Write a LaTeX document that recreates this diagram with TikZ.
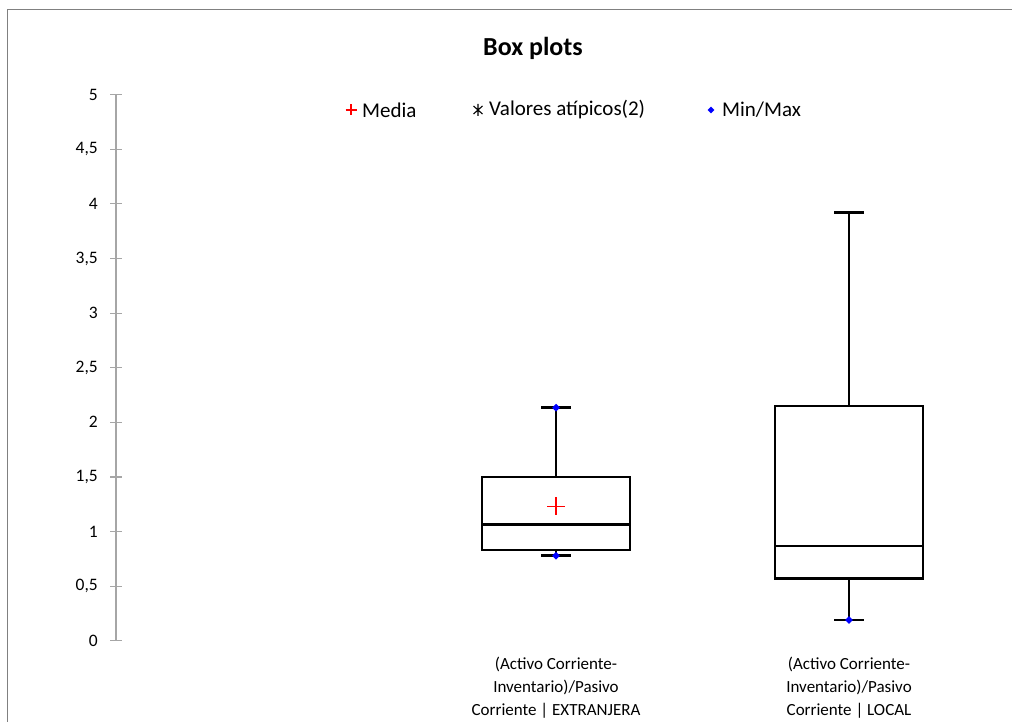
\documentclass[tikz,border=0pt]{standalone}
\usepackage{fontspec}
\setmainfont{Carlito}
\usetikzlibrary{shapes.geometric}
\begin{document}
\begin{tikzpicture}[x=1pt,y=-1pt,
    frame/.style={draw=black!50, line width=1.5pt},
    axisline/.style={draw=black!35, line width=1.2pt},
    boxline/.style={draw=black, line width=2.6pt},
    meanmark/.style={draw=red, line width=1.3pt},
    ticklabel/.style={anchor=east, inner sep=0pt, font=\fontsize{17.5}{20}\selectfont},
    catlabel/.style={anchor=north, align=center, inner sep=0pt,
      font=\fontsize{17}{23}\selectfont},
    legendtext/.style={anchor=west, inner sep=0pt, font=\fontsize{21}{24}\selectfont},
    minmax/.style={diamond, fill=blue, inner sep=0pt, minimum size=8pt}]
  \useasboundingbox (0,0) rectangle (1012,722);
  % chart frame
  \draw[frame] (7.5,722) -- (7.5,9.5) -- (1012,9.5);
  \node[font=\bfseries\fontsize{26}{29}\selectfont] (title) at (533,48) {Box plots};
  % vertical axis
  \draw[axisline] (116,94.7) -- (116,640.7);
  \foreach \v/\lab in {0/0, 0.5/{0,5}, 1/1, 1.5/{1,5}, 2/2, 2.5/{2,5},
                       3/3, 3.5/{3,5}, 4/4, 4.5/{4,5}, 5/5} {
    \pgfmathsetmacro\yy{640.7-109.2*\v}
    \draw[axisline] (110,\yy) -- (122,\yy);
    \node[ticklabel] (tick\v) at (98,\yy) {\lab};
  }
  % legend
  \draw[meanmark] (345.5,110) -- (356.5,110) (351,104.5) -- (351,115.5);
  \node[legendtext] (legmedia) at (362,110) {Media};
  \draw[line width=1.1pt] (478,104) -- (478,116) (473.5,106) -- (482.5,114) (473.5,114) -- (482.5,106);
  \node[legendtext] (legatip) at (489,110) {Valores atípicos(2)};
  \node[minmax, minimum size=7pt] (legdot) at (711,110) {};
  \node[legendtext] (legminmax) at (722,110) {Min/Max};
  % boxes
  \foreach \n/\cx/\lo/\qa/\med/\qb/\hi in {ext/556/0.778/0.83/1.066/1.50/2.134,
                                          loc/849/0.189/0.571/0.867/2.150/3.923} {
    \pgfmathsetmacro\ylo{640.7-109.2*\lo}
    \pgfmathsetmacro\yqa{640.7-109.2*\qa}
    \pgfmathsetmacro\ymed{640.7-109.2*\med}
    \pgfmathsetmacro\yqb{640.7-109.2*\qb}
    \pgfmathsetmacro\yhi{640.7-109.2*\hi}
    \coordinate (\n lo) at (\cx,\ylo);
    \coordinate (\n hi) at (\cx,\yhi);
    \coordinate (\n qa) at (\cx,\yqa);
    \coordinate (\n qb) at (\cx,\yqb);
    \draw[boxline] ([xshift=-74pt]\n qa) rectangle ([xshift=74pt]\n qb);
    \draw[boxline] (\cx-74,\ymed) -- (\cx+74,\ymed);
    \draw[boxline] (\n qb) -- (\n hi);
    \draw[boxline] (\n qa) -- (\n lo);
    \draw[boxline] ([xshift=-15pt]\n hi) -- ([xshift=15pt]\n hi);
    \draw[boxline] ([xshift=-15pt]\n lo) -- ([xshift=15pt]\n lo);
  }
  % mean and min/max points
  \draw[meanmark] (547,506.3) -- (565,506.3) (556,497.3) -- (556,515.3);
  \node[minmax] (extmax) at (exthi) {};
  \node[minmax] (extmin) at (extlo) {};
  \node[minmax] (locmin) at (loclo) {};
  % category labels
  \node[catlabel] (catext) at (556,657) {(Activo Corriente-\\Inventario)/Pasivo\\Corriente | EXTRANJERA};
  \node[catlabel] (catloc) at (849,657) {(Activo Corriente-\\Inventario)/Pasivo\\Corriente | LOCAL};
\end{tikzpicture}
\end{document}
